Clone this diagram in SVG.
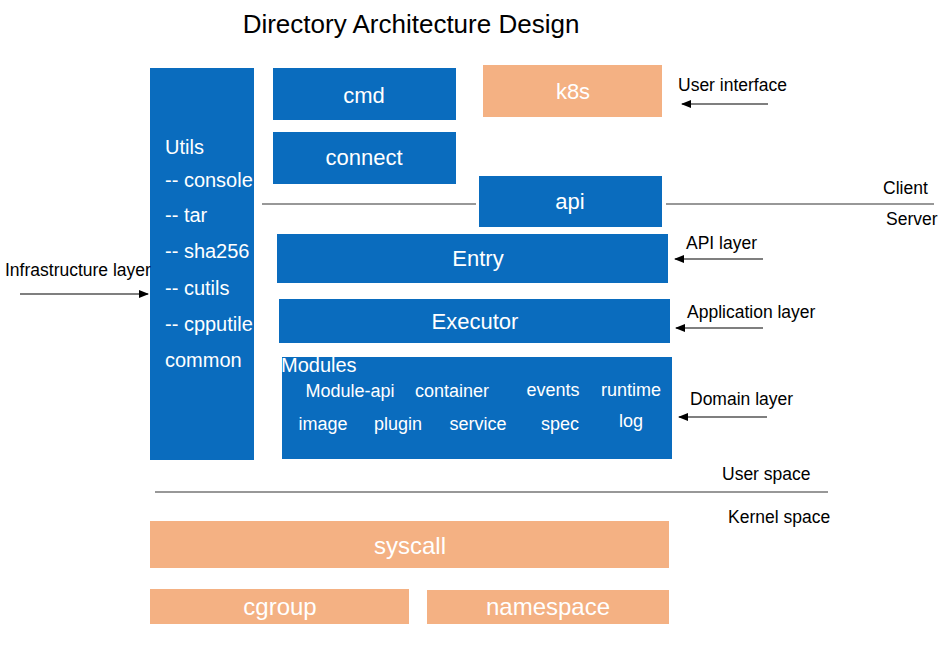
<svg xmlns="http://www.w3.org/2000/svg" width="950" height="647" viewBox="0 0 950 647">
<defs>
<marker id="ah" markerWidth="10" markerHeight="8" refX="9" refY="4" orient="auto" markerUnits="userSpaceOnUse">
<path d="M0,0 L10,4 L0,8 Z" fill="#000"/>
</marker>
<style>
.blue{fill:#0A6CBE}
.orange{fill:#F4B183}
.wt{font-family:"Liberation Sans",Arial,sans-serif;fill:#fff;font-size:22px;text-anchor:middle}
.ot{font-family:"Liberation Sans",Arial,sans-serif;fill:#fff;font-size:24px;text-anchor:middle}
.ut{font-family:"Liberation Sans",Arial,sans-serif;fill:#fff;font-size:20px}
.mt{font-family:"Liberation Sans",Arial,sans-serif;fill:#fff;font-size:18px;text-anchor:middle}
.lb{font-family:"Liberation Sans",Arial,sans-serif;fill:#000;font-size:17.5px}
.ln{stroke:#333;stroke-width:1.2;fill:none}
.ar{stroke:#000;stroke-width:1.2;fill:none;marker-end:url(#ah)}
</style>
</defs>
<rect width="950" height="647" fill="#fff"/>
<text x="411" y="33" font-family="'Liberation Sans',Arial,sans-serif" font-size="26" text-anchor="middle" fill="#000">Directory Architecture Design</text>

<g id="utils">
<rect class="blue" x="150" y="68" width="104" height="392"/>
<text class="ut" x="165" y="154">Utils</text>
<text class="ut" x="165" y="187">-- console</text>
<text class="ut" x="165" y="222">-- tar</text>
<text class="ut" x="165" y="258">-- sha256</text>
<text class="ut" x="165" y="295">-- cutils</text>
<text class="ut" x="165" y="331">-- cpputile</text>
<text class="ut" x="165" y="367">common</text>
</g>
<g id="cmd"><rect class="blue" x="273" y="68" width="183" height="52"/><text class="wt" x="364" y="103">cmd</text></g>
<g id="connect"><rect class="blue" x="273" y="132" width="183" height="52"/><text class="wt" x="364" y="165">connect</text></g>
<g id="k8s"><rect class="orange" x="483" y="65" width="179" height="52"/><text class="wt" x="573" y="99">k8s</text></g>
<g id="api"><rect class="blue" x="479" y="176" width="183" height="51"/><text class="wt" x="570" y="209">api</text></g>
<g id="entry"><rect class="blue" x="277" y="234" width="391" height="49"/><text class="wt" x="478" y="266">Entry</text></g>
<g id="executor"><rect class="blue" x="279" y="299" width="391" height="44"/><text class="wt" x="475" y="329">Executor</text></g>
<g id="modules">
<rect class="blue" x="282" y="357" width="390" height="102"/>
<text class="ut" x="281" y="372" font-size="21.5">Modules</text>
<text class="mt" x="350" y="397">Module-api</text>
<text class="mt" x="452" y="397">container</text>
<text class="mt" x="553" y="396">events</text>
<text class="mt" x="631" y="396">runtime</text>
<text class="mt" x="323" y="430">image</text>
<text class="mt" x="398" y="430">plugin</text>
<text class="mt" x="478" y="430">service</text>
<text class="mt" x="560" y="430">spec</text>
<text class="mt" x="631" y="427">log</text>
</g>
<g id="syscall"><rect class="orange" x="150" y="521" width="519" height="47"/><text class="ot" x="410" y="554">syscall</text></g>
<g id="cgroup"><rect class="orange" x="150" y="589" width="259" height="35"/><text class="ot" x="280" y="615">cgroup</text></g>
<g id="namespace"><rect class="orange" x="427" y="590" width="242" height="34"/><text class="ot" x="548" y="615">namespace</text></g>

<g id="labels">
<text class="lb" x="678" y="91">User interface</text>
<text class="lb" x="883" y="194">Client</text>
<text class="lb" x="886" y="225">Server</text>
<text class="lb" x="686" y="249">API layer</text>
<text class="lb" x="687" y="318">Application layer</text>
<text class="lb" x="690" y="405">Domain layer</text>
<text class="lb" x="5" y="276">Infrastructure layer</text>
<text class="lb" x="722" y="480">User space</text>
<text class="lb" x="728" y="523">Kernel space</text>
</g>

<g id="connectors">
<line class="ln" x1="262" y1="204" x2="476" y2="204"/>
<line class="ln" x1="666" y1="204" x2="934" y2="204"/>
<line class="ln" x1="155" y1="492" x2="828" y2="492"/>
<line class="ar" x1="768" y1="104" x2="682" y2="104"/>
<line class="ar" x1="763" y1="259" x2="675" y2="259"/>
<line class="ar" x1="763" y1="328" x2="676" y2="328"/>
<line class="ar" x1="767" y1="417" x2="679" y2="417"/>
<line class="ar" x1="20" y1="294" x2="148" y2="294"/>
</g>
</svg>
